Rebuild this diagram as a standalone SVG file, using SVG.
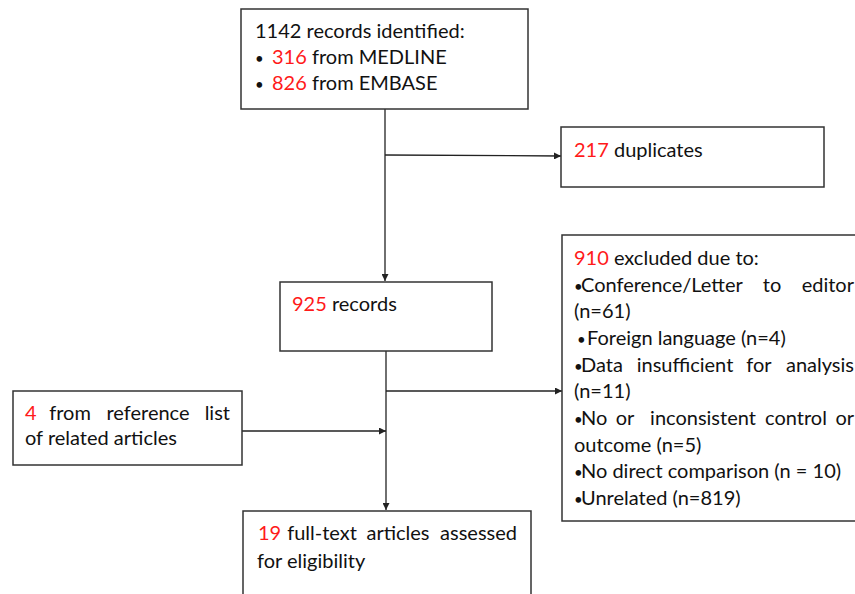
<svg xmlns="http://www.w3.org/2000/svg" width="855" height="594" viewBox="0 0 855 594">
<defs>
<style>
.box{fill:#fff;stroke:#333;stroke-width:1.5}
.t{font-family:Lato,"Liberation Sans",sans-serif;font-size:20px;fill:#111}
.r{fill:#ff1a1a}
.b{font-size:15px}
.m{text-anchor:middle}
.e{text-anchor:end}
.c{stroke:#222;stroke-width:1.3;fill:none}
</style>
<marker id="ah" viewBox="0 0 10 10" refX="10" refY="5" markerWidth="7" markerHeight="7" markerUnits="userSpaceOnUse" orient="auto">
<path d="M0,0 L10,5 L0,10 z" fill="#222"/>
</marker>
</defs>
<rect width="855" height="594" fill="#fff"/>
<g id="connectors">
<line class="c" x1="385" y1="109" x2="385" y2="281" marker-end="url(#ah)"/>
<line class="c" x1="385" y1="155" x2="561" y2="156" marker-end="url(#ah)"/>
<line class="c" x1="386" y1="351" x2="386" y2="510" marker-end="url(#ah)"/>
<line class="c" x1="386" y1="391" x2="562" y2="391" marker-end="url(#ah)"/>
<line class="c" x1="242" y1="431" x2="386" y2="431" marker-end="url(#ah)"/>
</g>
<g id="identified">
<rect class="box" x="241" y="9" width="287" height="100"/>
<text class="t" x="255" y="38">1142 records identified:</text>
<text class="t" y="64"><tspan x="255" class="b">•</tspan><tspan x="272" class="r">316</tspan> from MEDLINE</text>
<text class="t" y="90"><tspan x="255" class="b">•</tspan><tspan x="272" class="r">826</tspan> from EMBASE</text>
</g>
<g id="duplicates">
<rect class="box" x="561" y="127" width="263" height="60"/>
<text class="t" x="574" y="157"><tspan class="r">217</tspan> duplicates</text>
</g>
<g id="records">
<rect class="box" x="280" y="282" width="212" height="69"/>
<text class="t" x="292" y="311"><tspan class="r">925</tspan> records</text>
</g>
<g id="excluded">
<rect class="box" x="562" y="235" width="310" height="286"/>
<text class="t" x="574" y="265"><tspan class="r">910</tspan> excluded due to:</text>
<text class="t" y="292"><tspan x="574" class="b">•</tspan><tspan x="581">Conference/Letter</tspan><tspan x="772" class="m">to</tspan><tspan x="854" class="e">editor</tspan></text>
<text class="t" x="574" y="318">(n=61)</text>
<text class="t" y="345"><tspan x="577" class="b">•</tspan><tspan x="587">Foreign language (n=4)</tspan></text>
<text class="t" y="372"><tspan x="574" class="b">•</tspan><tspan x="581">Data</tspan><tspan x="685" class="m">insufficient</tspan><tspan x="759" class="m">for</tspan><tspan x="854" class="e">analysis</tspan></text>
<text class="t" x="574" y="398">(n=11)</text>
<text class="t" y="425"><tspan x="574" class="b">•</tspan><tspan x="581">No</tspan><tspan x="625" class="m">or</tspan><tspan x="703" class="m">inconsistent</tspan><tspan x="796" class="m">control</tspan><tspan x="854" class="e">or</tspan></text>
<text class="t" x="574" y="452">outcome (n=5)</text>
<text class="t" y="478"><tspan x="574" class="b">•</tspan><tspan x="581">No direct comparison (n = 10)</tspan></text>
<text class="t" y="505"><tspan x="574" class="b">•</tspan><tspan x="581">Unrelated (n=819)</tspan></text>
</g>
<g id="reference">
<rect class="box" x="13" y="391" width="229" height="74"/>
<text class="t" y="420"><tspan x="25" class="r">4</tspan><tspan x="70" class="m">from</tspan><tspan x="148" class="m">reference</tspan><tspan x="230" class="e">list</tspan></text>
<text class="t" x="25" y="445">of related articles</text>
</g>
<g id="fulltext">
<rect class="box" x="243" y="511" width="288" height="100"/>
<text class="t" y="540"><tspan x="258" class="r">19</tspan><tspan x="322" class="m">full-text</tspan><tspan x="398" class="m">articles</tspan><tspan x="517" class="e">assessed</tspan></text>
<text class="t" x="257" y="568">for eligibility</text>
</g>
</svg>
